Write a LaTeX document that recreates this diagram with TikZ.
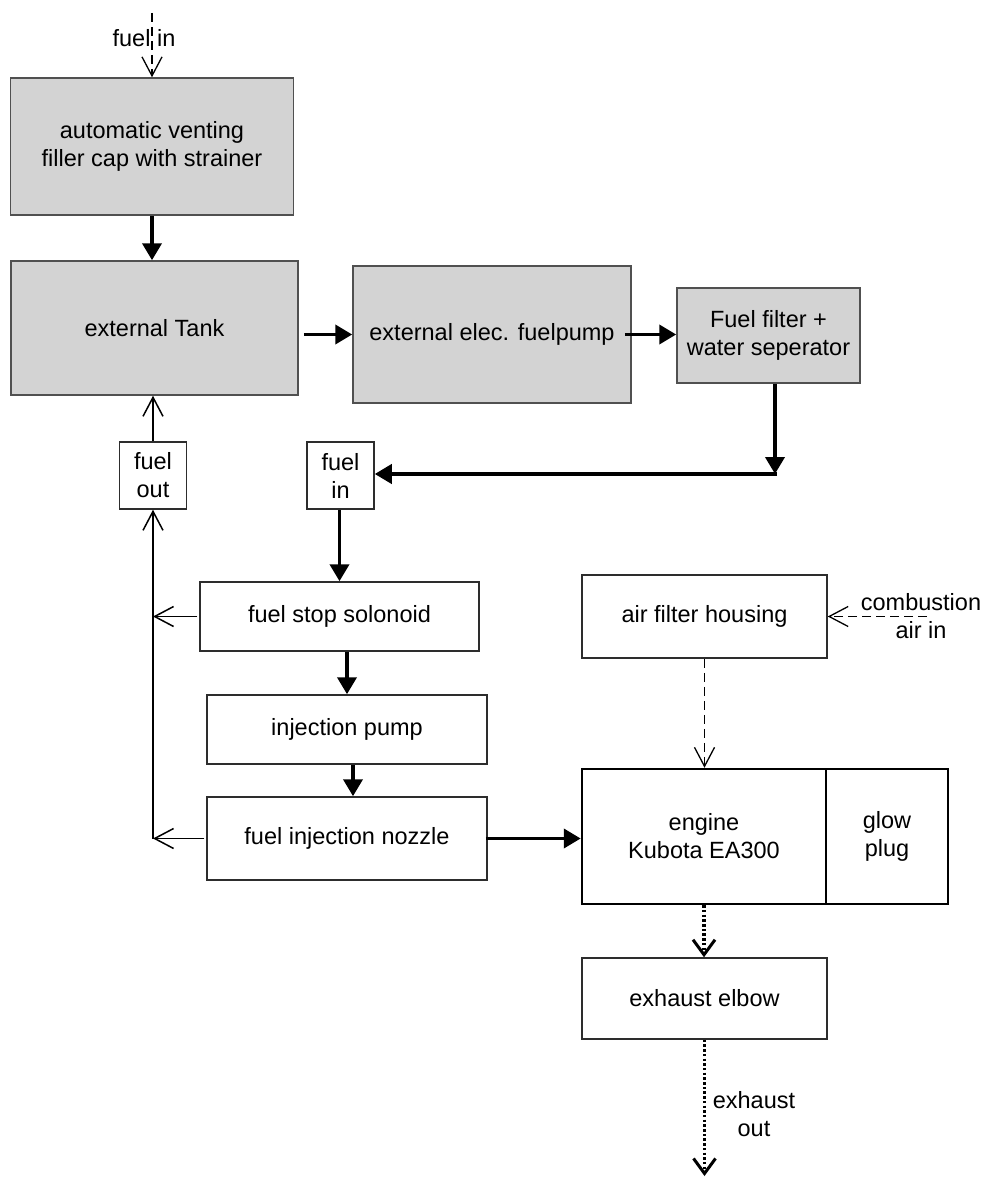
\documentclass[tikz,border=0pt]{standalone}
\usepackage{fontspec}
\setmainfont{Liberation Sans}
\usetikzlibrary{arrows.meta}
\definecolor{boxgray}{RGB}{211,211,211}
\definecolor{edgegray}{RGB}{80,80,80}
\definecolor{edgedark}{RGB}{45,45,45}
\begin{document}
\begin{tikzpicture}[x=1pt,y=-1pt,
  every node/.style={font=\fontsize{23.5}{28}\selectfont, align=center, inner sep=0pt},
  graybox/.style={draw=edgegray, fill=boxgray, line width=1.5pt},
  whitebox/.style={draw=edgedark, fill=white, line width=1.5pt},
  enginebox/.style={draw=black, fill=white, line width=2.5pt},
  flow/.style={line width=3.8pt, -{Triangle[length=17pt,width=19pt]}},
  ret/.style={line width=1.5pt, -{Straight Barb[length=19pt,width=20pt]}},
  airflow/.style={line width=1.3pt, dash pattern=on 9pt off 5pt, -{Straight Barb[length=19pt,width=20pt,line width=1.3pt]}},
  exflow/.style={line width=3.5pt, dash pattern=on 2.5pt off 2.2pt, -{Straight Barb[length=15pt,width=22pt,line width=3pt]}}]
\useasboundingbox (0,0) rectangle (987,1177);

% boxes
\node[graybox, minimum width=283, minimum height=137] (cap) at (152,146.5) {automatic venting\\filler cap with strainer};
\node[graybox, minimum width=287, minimum height=134] (tank) at (154.5,328) {external Tank};
\node[graybox, minimum width=278, minimum height=137] (pump) at (492,334.5) {external elec. fuelpump};
\node[graybox, minimum width=183, minimum height=95] (filter) at (768.5,335.5) {Fuel filter +\\water seperator};
\node[whitebox, minimum width=67, minimum height=67] (fuelout) at (153,475.5) {fuel\\out};
\node[whitebox, minimum width=67, minimum height=67] (fuelin) at (340.5,475.5) {fuel\\in};
\node[whitebox, minimum width=279, minimum height=69] (stop) at (339.5,616.5) {fuel stop solonoid};
\node[whitebox, minimum width=280, minimum height=69] (injpump) at (347,729.5) {injection pump};
\node[whitebox, minimum width=280, minimum height=83] (nozzle) at (347,838.5) {fuel injection nozzle};
\node[whitebox, minimum width=245, minimum height=83] (air) at (704.5,616.5) {air filter housing};
\node[enginebox, minimum width=244, minimum height=135] (engine) at (704,836.5) {engine\\Kubota EA300};
\node[enginebox, minimum width=122, minimum height=135] (glow) at (887,836.5) {glow\\plug};
\node[whitebox, minimum width=245, minimum height=81] (exhaust) at (704.5,998.5) {exhaust elbow};

% free labels
\node (fuelintxt) at (144,38) {fuel in};
\node (combtxt) at (921,616) {combustion\\air in};
\node (exhtxt) at (754,1114) {exhaust\\out};

% free ends
\coordinate (top) at (152,13);
\coordinate (c1) at (775,474);
\coordinate (rs) at (153,616.5);
\coordinate (rb) at (153,838.5);
\coordinate (airsrc) at (927,616.5);
\coordinate (exend) at (704.5,1176);

% main fuel flow
\draw[airflow] (top) -- (cap.north);
\draw[flow] (cap.south) -- (cap.south |- tank.north);
\draw[flow] ([xshift=5pt]tank.east |- pump.west) -- (pump.west);
\draw[flow] ([xshift=-7pt]pump.east) -- (filter.west |- pump.east);
\draw[flow] (filter.south -| c1) -- (c1);
\draw[flow] ([xshift=2pt]c1) -- (fuelin.east |- c1);
\draw[flow] (fuelin.south -| stop.north) -- (stop.north);
\draw[flow] (injpump.north |- stop.south) -- (injpump.north);
\draw[flow] ([xshift=6pt]injpump.south) -- ([xshift=6pt]nozzle.north);
\draw[flow] ([xshift=-2pt]nozzle.east) -- (engine.west |- nozzle.east);

% return line
\draw[ret] ([xshift=-2pt]stop.west) -- (rs);
\draw[ret] ([xshift=-2pt]nozzle.west) -- (rb);
\draw[ret] (rb) -- (fuelout.south);
\draw[ret] (fuelout.north) -- (fuelout.north |- tank.south);

% air and exhaust
\draw[airflow] (airsrc) -- (air.east);
\draw[airflow] (air.south) -- (air.south |- engine.north);
\draw[exflow] (engine.south) -- (engine.south |- exhaust.north);
\draw[exflow] (exhaust.south) -- (exend);
\end{tikzpicture}
\end{document}
